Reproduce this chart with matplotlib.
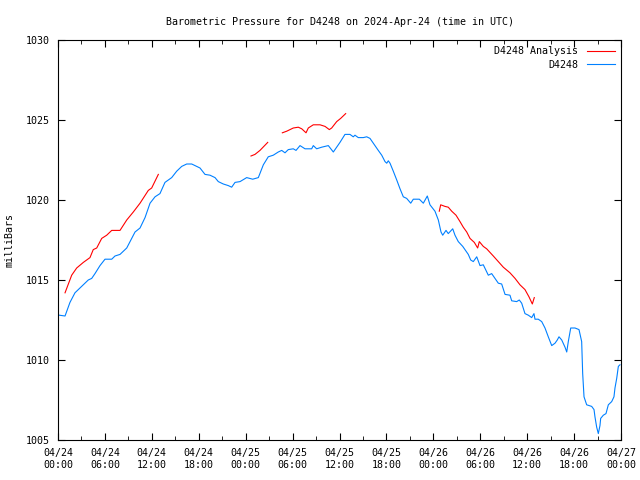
import numpy as np
import matplotlib
matplotlib.use('Agg')
import matplotlib.pyplot as plt
from matplotlib.ticker import MultipleLocator

# hours since 2024-04-24 00:00 UTC, pressure in mb
obs_hours = [0.17, 0.9, 1.53, 2.17, 3.24, 3.87, 4.31, 4.73, 5.37, 6.01, 6.87, 7.29, 7.93, 8.79,
             9.85, 10.49, 11.13, 11.77, 12.41, 13.04, 13.68, 14.54, 15.18, 15.82, 16.46, 17.10,
             17.74, 18.16, 18.80, 19.44, 20.08, 20.50, 21.14, 21.78, 22.21, 22.64, 23.28, 24.13,
             24.90, 25.62, 26.26, 26.89, 27.53, 28.17, 28.61, 29.03, 29.45, 30.09, 30.44, 30.95,
             31.59, 32.44, 32.65, 33.08, 33.72, 34.57, 35.21, 35.64, 36.06, 36.70, 37.34, 37.76,
             37.98, 38.40, 39.04, 39.48, 39.90, 40.32, 40.96, 41.40, 41.82, 42.04, 42.24, 42.46,
             42.88, 43.32, 43.74, 44.16, 44.59, 45.11, 45.44, 46.21, 46.72, 47.23, 47.57, 48.21,
             48.64, 48.98, 49.20, 49.62, 49.91, 50.48, 50.77, 51.19, 51.76, 52.18, 52.47, 52.78,
             53.11, 53.55, 53.97, 54.39, 54.74, 55.03, 55.46, 55.89, 56.31, 56.74, 57.17, 57.80,
             58.02, 58.66, 58.99, 59.30, 59.72, 60.15, 60.58, 60.87, 61.00, 61.42, 61.86, 62.28,
             62.70, 63.14, 63.56, 63.85, 64.07, 64.42, 64.84, 65.06, 65.26, 65.57, 66.12, 66.63,
             66.97, 67.10, 67.27, 67.61, 68.25, 68.55, 68.67, 68.89, 69.10, 69.31, 69.40, 69.74,
             70.08, 70.38, 70.81, 71.10, 71.23, 71.45, 71.66, 71.87]
obs_mb = [1012.8, 1012.75, 1013.6, 1014.2, 1014.7, 1015.0, 1015.1, 1015.4, 1015.9, 1016.3, 1016.3,
          1016.5, 1016.6, 1017.0, 1018.0, 1018.25, 1018.9, 1019.8, 1020.2, 1020.4, 1021.1, 1021.4,
          1021.8, 1022.1, 1022.25, 1022.25, 1022.1, 1022.0, 1021.6, 1021.55, 1021.4, 1021.15,
          1021.0, 1020.9, 1020.8, 1021.1, 1021.15, 1021.4, 1021.3, 1021.4, 1022.2, 1022.7, 1022.8,
          1023.0, 1023.1, 1022.95, 1023.15, 1023.2, 1023.1, 1023.4, 1023.2, 1023.2, 1023.4, 1023.2,
          1023.3, 1023.4, 1023.0, 1023.3, 1023.6, 1024.1, 1024.1, 1023.95, 1024.05, 1023.9, 1023.9,
          1023.95, 1023.85, 1023.55, 1023.1, 1022.8, 1022.4, 1022.3, 1022.45, 1022.3, 1021.8,
          1021.25, 1020.7, 1020.2, 1020.1, 1019.8, 1020.05, 1020.05, 1019.8, 1020.25, 1019.7,
          1019.3, 1018.75, 1018.0, 1017.8, 1018.1, 1017.9, 1018.2, 1017.8, 1017.4, 1017.1, 1016.8,
          1016.6, 1016.25, 1016.15, 1016.45, 1015.9, 1015.95, 1015.6, 1015.3, 1015.4, 1015.1,
          1014.8, 1014.75, 1014.1, 1014.05, 1013.7, 1013.65, 1013.75, 1013.55, 1012.9, 1012.8,
          1012.65, 1012.9, 1012.55, 1012.55, 1012.4, 1012.0, 1011.45, 1010.9, 1011.05, 1011.25,
          1011.45, 1011.25, 1010.8, 1010.5, 1011.15, 1012.0, 1012.0, 1011.9, 1011.15, 1009.15,
          1007.7, 1007.2, 1007.1, 1006.9, 1006.45, 1005.8, 1005.4, 1005.9, 1006.35, 1006.55,
          1006.65, 1007.2, 1007.4, 1007.7, 1008.25, 1008.85, 1009.6, 1009.7]

# analysis, gaps marked with nan
ana_hours = [0.90, 1.75, 2.39, 3.24, 4.09, 4.51, 4.95, 5.59, 6.23, 6.87, 7.93, 8.79, 9.63, 10.49,
             11.55, 11.98, 12.83, np.nan,
             24.68, 25.19, 25.83, 26.82, np.nan,
             28.69, 29.25, 30.09, 30.73, 31.17, 31.72, 32.01, 32.65, 33.51, 34.15, 34.70, 35.00,
             35.64, 36.15, 36.79, np.nan,
             48.76, 48.94, 49.49, 49.91, 50.35, 50.90, 51.41, 51.83, 52.27, 52.69, 53.24, 53.67,
             53.88, 54.39, 54.82, 55.67, 56.31, 56.95, 57.80, 58.45, 59.08, 59.72, 60.23, 60.66,
             60.91]
ana_mb = [1014.2, 1015.3, 1015.75, 1016.1, 1016.4, 1016.9, 1017.0, 1017.6, 1017.8, 1018.1, 1018.1,
          1018.75, 1019.25, 1019.8, 1020.6, 1020.75, 1021.6, np.nan,
          1022.75, 1022.85, 1023.1, 1023.6, np.nan,
          1024.2, 1024.3, 1024.5, 1024.55, 1024.45, 1024.2, 1024.5, 1024.7, 1024.7, 1024.6,
          1024.4, 1024.5, 1024.9, 1025.1, 1025.4, np.nan,
          1019.3, 1019.7, 1019.6, 1019.55, 1019.3, 1019.05, 1018.65, 1018.3, 1018.0, 1017.6,
          1017.35, 1017.0, 1017.4, 1017.1, 1016.95, 1016.5, 1016.15, 1015.8, 1015.45, 1015.1,
          1014.7, 1014.4, 1013.95, 1013.5, 1013.9]

tick_hours = list(range(0, 73, 6))
tick_labels = ['04/24\n00:00', '04/24\n06:00', '04/24\n12:00', '04/24\n18:00',
               '04/25\n00:00', '04/25\n06:00', '04/25\n12:00', '04/25\n18:00',
               '04/26\n00:00', '04/26\n06:00', '04/26\n12:00', '04/26\n18:00',
               '04/27\n00:00']

plt.rcParams['font.family'] = 'DejaVu Sans Mono'
plt.rcParams['font.size'] = 7.2

fig = plt.figure(figsize=(6.4, 4.8), dpi=100)
ax = fig.add_axes([58 / 640, 40 / 480, 563 / 640, 400 / 480])

ax.plot(ana_hours, ana_mb, color='#ff0000', lw=0.8, label='D4248 Analysis')
ax.plot(obs_hours, obs_mb, color='#0080ff', lw=0.8, label='D4248')

ax.set_xlim(0, 72)
ax.set_ylim(1005, 1030)
ax.set_xticks(tick_hours)
ax.set_xticklabels(tick_labels)
ax.xaxis.set_minor_locator(MultipleLocator(3))
ax.yaxis.set_major_locator(MultipleLocator(5))
ax.tick_params(which='both', direction='in', top=True, right=True, pad=6)
ax.tick_params(which='major', length=5)
ax.tick_params(which='minor', length=3)

ax.set_ylabel('milliBars', labelpad=8)
ax.set_title('Barometric Pressure for D4248 on 2024-Apr-24 (time in UTC)', fontsize=7.2, pad=11)
ax.legend(loc='upper right', frameon=False, markerfirst=False, handlelength=2.8,
          handletextpad=0.8, borderaxespad=0.25, labelspacing=0.35)

fig.savefig('out.png')
